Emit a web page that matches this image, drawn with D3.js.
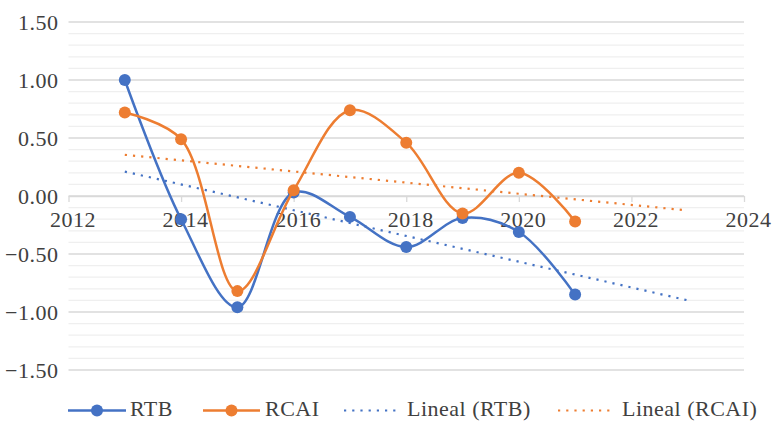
<!DOCTYPE html>
<html>
<head>
<meta charset="utf-8">
<script src="https://cdn.jsdelivr.net/npm/d3@7"></script>
<style>
  html, body { margin: 0; padding: 0; background: #fff; }
  svg { display: block; }
</style>
</head>
<body>
<svg id="chart" width="776" height="422"></svg>
<script>
// Yearly values of both indices
const years = [2013, 2014, 2015, 2016, 2017, 2018, 2019, 2020, 2021];
const rtb  = [1.00, -0.20, -0.96, 0.03, -0.18, -0.44, -0.19, -0.31, -0.85];
const rcai = [0.72, 0.49, -0.82, 0.05, 0.74, 0.46, -0.15, 0.20, -0.22];

const seriesNames = ["RTB", "RCAI"];
const trendNames = ["Lineal (RTB)", "Lineal (RCAI)"];
const xTicks = [2012, 2014, 2016, 2018, 2020, 2022, 2024];
const yTicks = [-1.5, -1.0, -0.5, 0.0, 0.5, 1.0, 1.5];
const trendForward = 2; // periods projected past the last year

const colors = ["#4472C4", "#ED7D31"];
const FONT = "Liberation Serif";
const FONT_SIZE = 22;
const TEXT_COLOR = "#404040";

const svg = d3.select("#chart");
const plotLeft = 68.5, plotRight = 744, plotTop = 22, plotBottom = 370;

const x = d3.scaleLinear().domain([2012, 2024]).range([plotLeft, plotRight]);
const y = d3.scaleLinear().domain([-1.5, 1.5]).range([plotBottom, plotTop]);

// Horizontal gridlines: minor every 0.1, major every 0.5
const minor = d3.range(-15, 16).map(d => d / 10);
svg.append("g").selectAll("line").data(minor).join("line")
  .attr("x1", plotLeft).attr("x2", plotRight)
  .attr("y1", d => y(d)).attr("y2", d => y(d))
  .attr("stroke", d => Math.abs(Math.round(d * 10)) % 5 === 0 ? "#d9d9d9" : "#efefef")
  .attr("stroke-width", 1.3);

// Y axis labels
const yAxis = d3.axisLeft(y).tickValues(yTicks).tickFormat(d3.format(".2f")).tickSize(0).tickPadding(0);
const gy = svg.append("g").attr("transform", `translate(${plotLeft - 10},0)`).call(yAxis)
  .attr("font-family", FONT).attr("font-size", FONT_SIZE);
gy.select(".domain").remove();
gy.selectAll("text").attr("dy", "0.33em").attr("fill", TEXT_COLOR).attr("letter-spacing", 0.5);

// X axis drawn at y = 0
const xAxis = d3.axisBottom(x).tickValues(xTicks).tickFormat(d3.format("d")).tickSizeInner(6).tickSizeOuter(0).tickPadding(9);
const gx = svg.append("g").attr("transform", `translate(0,${y(0)})`).call(xAxis)
  .attr("font-family", FONT).attr("font-size", FONT_SIZE);
gx.select(".domain").attr("stroke", "#d9d9d9").attr("stroke-width", 1.3);
gx.selectAll(".tick line").attr("stroke", "#d9d9d9").attr("stroke-width", 1.3);
gx.selectAll("text").attr("dx", 4).attr("fill", TEXT_COLOR).attr("letter-spacing", 0.5);

// Least-squares trend lines
function trend(xs, ys) {
  const mx = d3.mean(xs), my = d3.mean(ys);
  const sxy = d3.sum(xs, (v, i) => (v - mx) * (ys[i] - my));
  const sxx = d3.sum(xs, v => (v - mx) * (v - mx));
  const b = sxy / sxx, a = my - b * mx;
  const x0 = xs[0], x1 = xs[xs.length - 1] + trendForward;
  return [[x0, a + b * x0], [x1, a + b * x1]];
}

const seriesData = [rtb, rcai];
const line = d3.line().x(d => x(d[0])).y(d => y(d[1]));
const smooth = d3.line().x(d => x(d[0])).y(d => y(d[1])).curve(d3.curveCatmullRom.alpha(0.5));

seriesData.forEach((vals, i) => {
  svg.append("path")
    .attr("d", line(trend(years, vals)))
    .attr("fill", "none").attr("stroke", colors[i])
    .attr("stroke-width", 2.2).attr("stroke-dasharray", "2.2 6");
});

seriesData.forEach((vals, i) => {
  const pts = years.map((yr, j) => [yr, vals[j]]);
  svg.append("path")
    .attr("d", smooth(pts))
    .attr("fill", "none").attr("stroke", colors[i])
    .attr("stroke-width", 2.5);
  svg.append("g").selectAll("circle").data(pts).join("circle")
    .attr("cx", d => x(d[0])).attr("cy", d => y(d[1])).attr("r", 6)
    .attr("fill", colors[i]);
});

// Legend
const lg = svg.append("g").attr("transform", "translate(0,410.5)")
  .attr("font-family", FONT).attr("font-size", FONT_SIZE);
const legendItems = [
  { name: seriesNames[0], color: colors[0], x0: 68, x1: 126, marker: true, tx: 130 },
  { name: seriesNames[1], color: colors[1], x0: 203, x1: 260, marker: true, tx: 265 },
  { name: trendNames[0], color: colors[0], x0: 344, x1: 397, marker: false, tx: 407 },
  { name: trendNames[1], color: colors[1], x0: 558, x1: 612, marker: false, tx: 622 }
];
legendItems.forEach(it => {
  const ln = lg.append("line").attr("x1", it.x0).attr("x2", it.x1).attr("y1", 0).attr("y2", 0)
    .attr("stroke", it.color);
  if (it.marker) {
    ln.attr("stroke-width", 2.5);
    lg.append("circle").attr("cx", (it.x0 + it.x1) / 2).attr("cy", 0).attr("r", 6).attr("fill", it.color);
  } else {
    ln.attr("stroke-width", 2.2).attr("stroke-dasharray", "2.2 6");
  }
  lg.append("text").attr("x", it.tx).attr("y", 5.5)
    .attr("fill", TEXT_COLOR).attr("letter-spacing", 0.5).text(it.name);
});
</script>
</body>
</html>
